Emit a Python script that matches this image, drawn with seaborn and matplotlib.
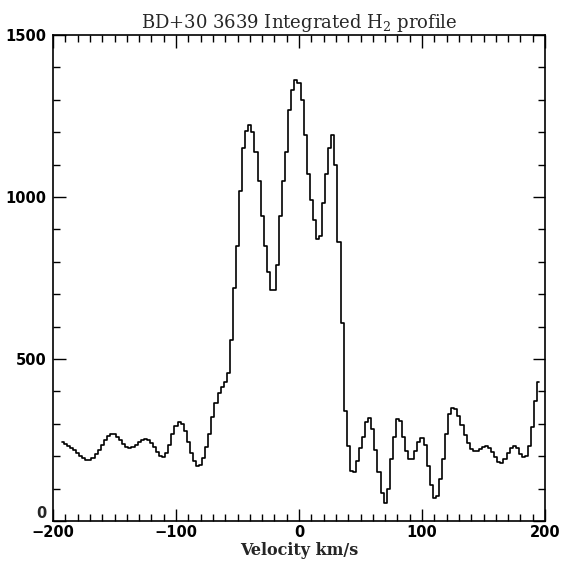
import numpy as np
import pandas as pd
import seaborn as sns
from matplotlib import pyplot as plt
from matplotlib.ticker import MultipleLocator, FuncFormatter

# velocity grid (km/s) and integrated H2 flux
velocity = np.arange(-192.5, 195.1, 2.5)
flux = [243, 238, 232, 226, 219, 211, 202, 193, 187, 187,
        194, 206, 220, 236, 251, 262, 268, 267, 260, 249,
        238, 229, 225, 227, 235, 244, 251, 253, 249, 240,
        228, 214, 201, 197, 209, 236, 268, 293, 306, 300,
        278, 245, 210, 184, 171, 172, 195, 228, 270, 320,
        365, 395, 415, 430, 458, 560, 720, 850, 1020, 1150,
        1205, 1222, 1200, 1140, 1050, 940, 850, 770, 712, 712,
        790, 940, 1050, 1140, 1270, 1330, 1360, 1352, 1300, 1190,
        1070, 990, 930, 870, 880, 980, 1070, 1150, 1190, 1100,
        860, 610, 340, 230, 155, 150, 185, 225, 260, 305,
        318, 285, 220, 150, 85, 56, 100, 190, 260, 315,
        310, 260, 215, 190, 190, 215, 245, 256, 235, 170,
        110, 72, 78, 130, 190, 270, 330, 349, 345, 325,
        295, 265, 240, 222, 215, 216, 222, 229, 231, 226,
        214, 197, 183, 180, 190, 210, 226, 231, 224, 208,
        198, 200, 230, 290, 370, 430]

df = pd.DataFrame({'Velocity': velocity, 'Flux': flux})

sns.set_style('ticks')
plt.rcParams['font.family'] = ['DejaVu Serif']
plt.rcParams['mathtext.fontset'] = 'dejavuserif'

fig = plt.figure(figsize=(5.61, 5.63), dpi=100)
ax = fig.add_axes([0.0945, 0.0746, 0.877, 0.8632])

sns.lineplot(data=df, x='Velocity', y='Flux', ax=ax, color='black',
             linewidth=1.2, drawstyle='steps-mid')

ax.set_xlim(-200, 200)
ax.set_ylim(0, 1500)
ax.xaxis.set_major_locator(MultipleLocator(100))
ax.xaxis.set_minor_locator(MultipleLocator(10))
ax.yaxis.set_major_locator(MultipleLocator(500))
ax.yaxis.set_minor_locator(MultipleLocator(100))
# the y "0" is drawn by hand below so it can sit just above the corner
ax.yaxis.set_major_formatter(FuncFormatter(lambda v, p: '' if v == 0 else '%d' % v))
ax.tick_params(which='both', direction='in', top=True, right=True, width=1.0, colors='black')
ax.tick_params(which='major', length=9)
ax.tick_params(which='minor', length=5)
ax.tick_params(axis='x', which='major', pad=3)
ax.tick_params(axis='y', which='major', pad=5)
for sp in ax.spines.values():
    sp.set_linewidth(1.2)
    sp.set_color('black')

ax.set_title('BD+30 3639 Integrated H$_2$ profile', fontsize=13, pad=5)
ax.set_xlabel('Velocity km/s', fontsize=11.5, fontweight='bold', labelpad=1)
ax.set_ylabel('')

for lab in ax.get_xticklabels() + ax.get_yticklabels():
    lab.set_family('DejaVu Sans')
    lab.set_fontweight('bold')
    lab.set_fontsize(10.5)
ax.text(-0.014, 0, '0', transform=ax.get_yaxis_transform(), ha='right', va='bottom',
        family='DejaVu Sans', fontweight='bold', fontsize=10.5)

plt.savefig('out.png', dpi=100)
